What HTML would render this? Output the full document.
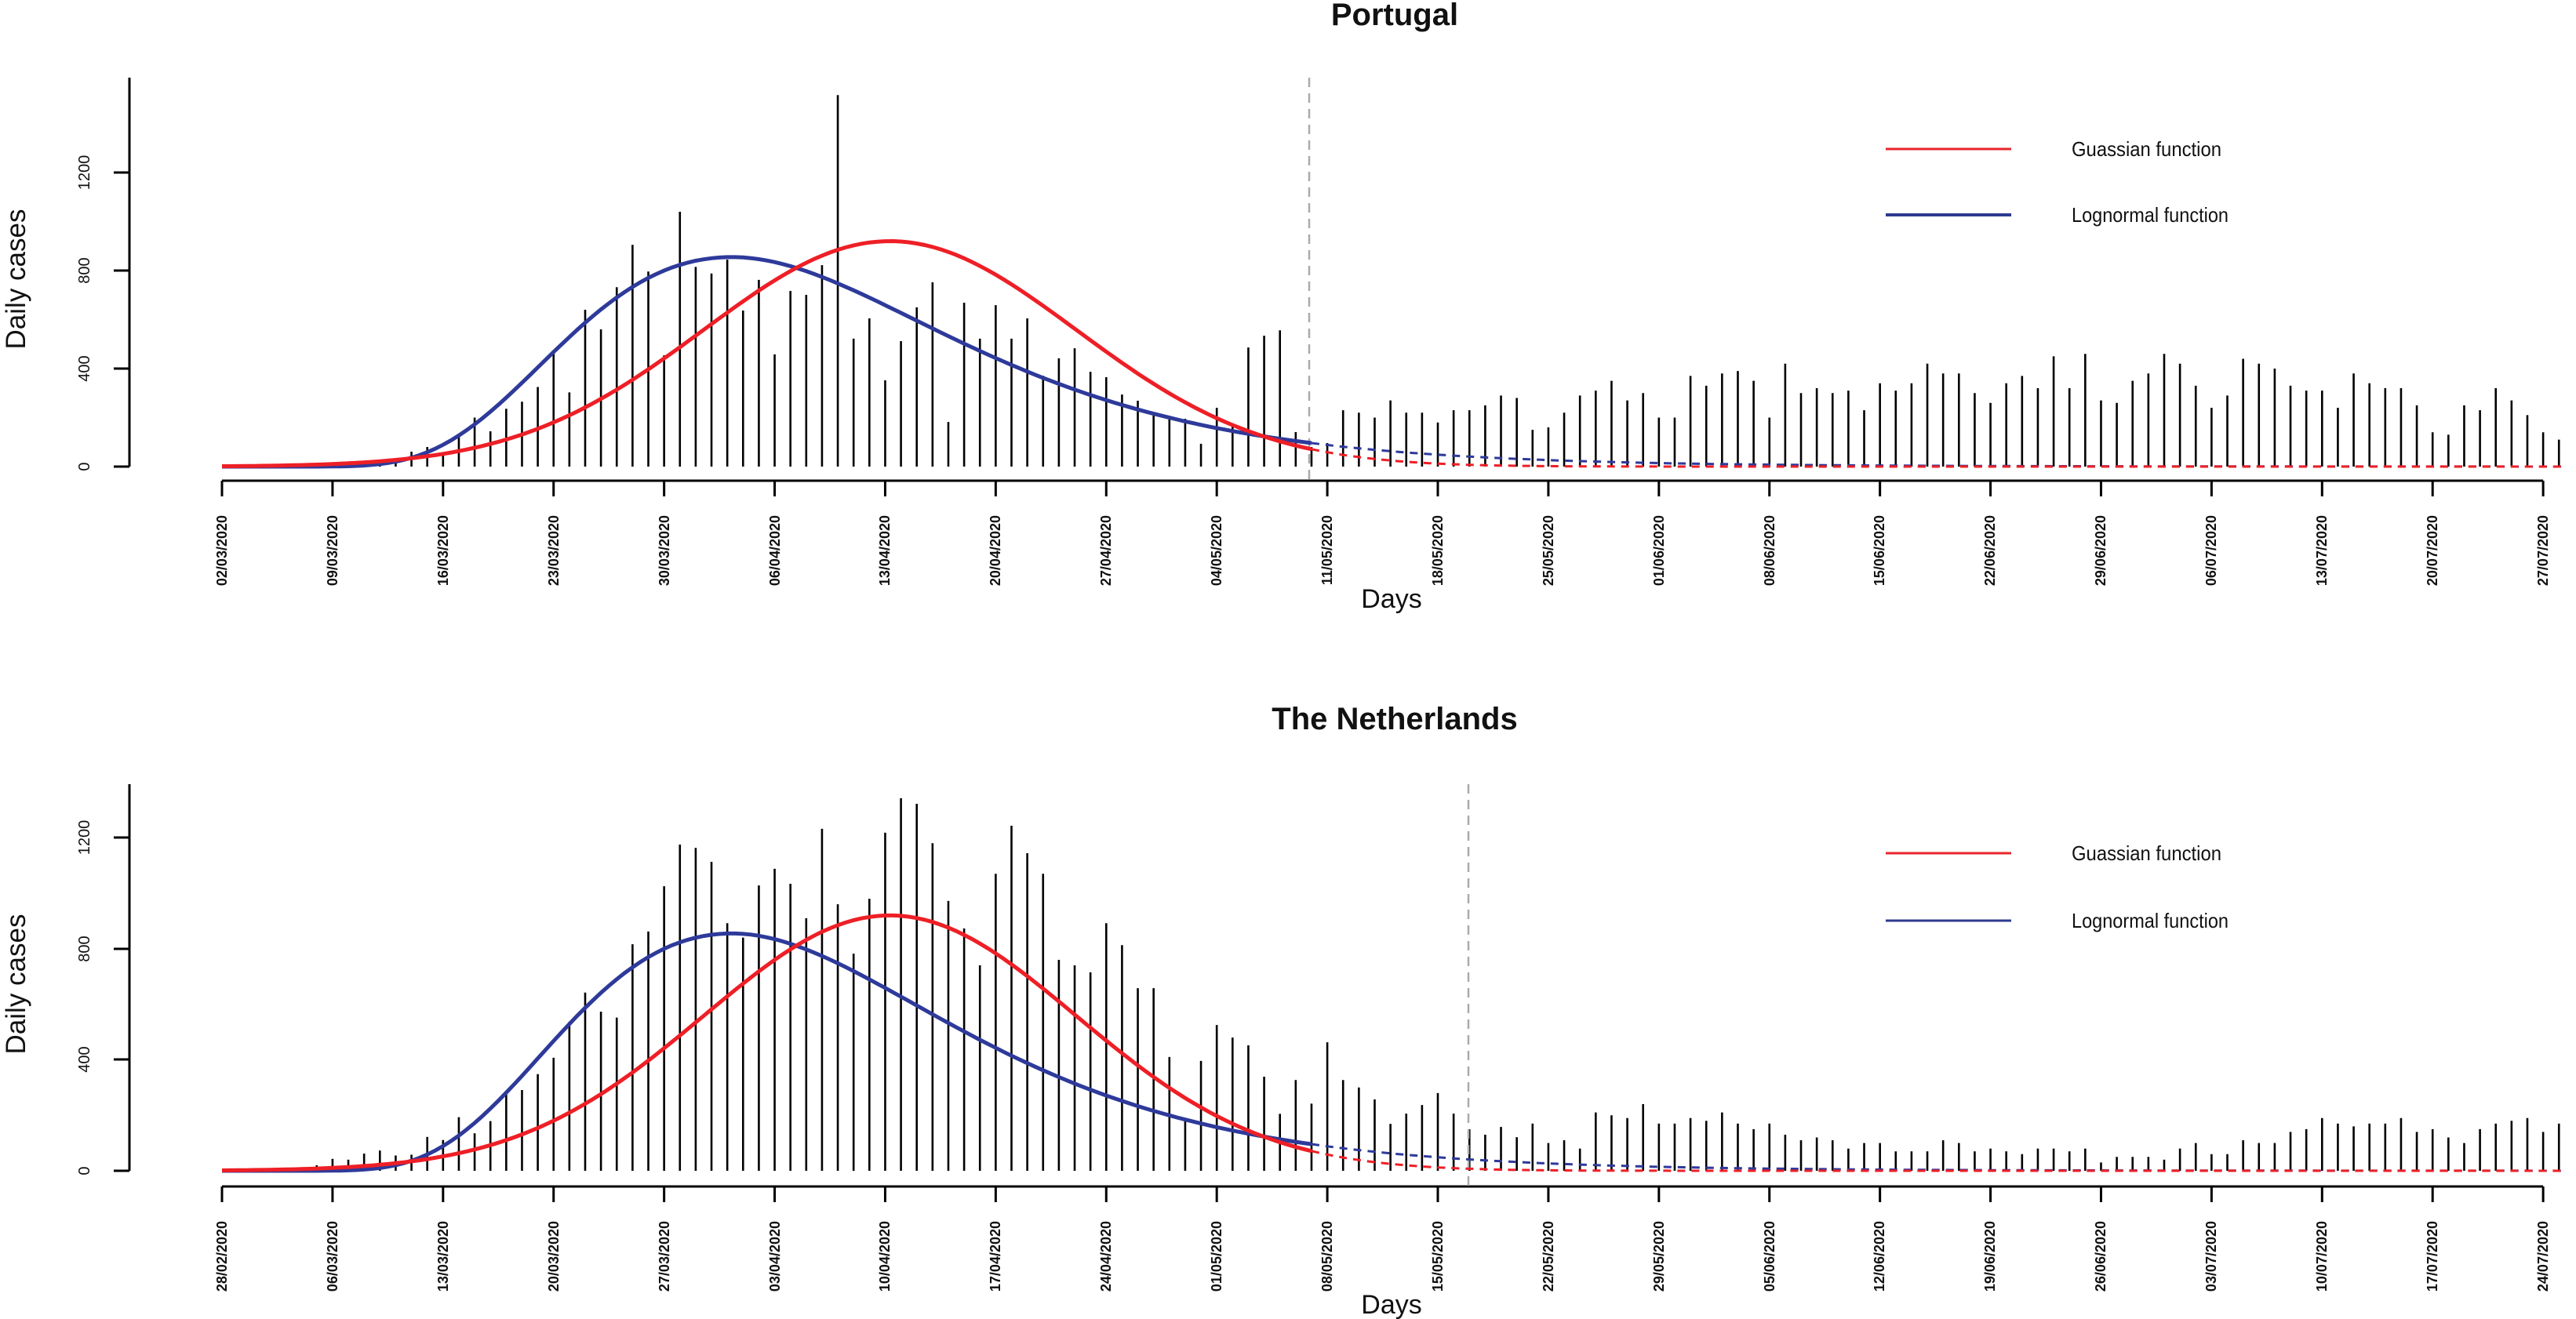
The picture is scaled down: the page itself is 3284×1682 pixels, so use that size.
<!DOCTYPE html>
<html><head><meta charset="utf-8"><style>
html,body{margin:0;padding:0;background:#fff}
svg{display:block}
text{font-family:"Liberation Sans",Arial,sans-serif;fill:#111}
</style></head><body>
<svg id="s" width="3284" height="1682" viewBox="0 0 3284 1682" xmlns="http://www.w3.org/2000/svg">
<rect width="3284" height="1682" fill="#fff"/>
<text x="1778" y="32" font-size="40" font-weight="bold" text-anchor="middle">Portugal</text>
<text x="1778" y="930" font-size="40" font-weight="bold" text-anchor="middle">The Netherlands</text>
<text transform="translate(32,356) rotate(-90)" font-size="35" text-anchor="middle">Daily cases</text>
<text transform="translate(32,1255) rotate(-90)" font-size="35" text-anchor="middle">Daily cases</text>
<text x="1774" y="775" font-size="34" text-anchor="middle">Days</text>
<text x="1774" y="1675" font-size="34" text-anchor="middle">Days</text>
<g stroke="#000" stroke-width="3" fill="none">
<line x1="165" y1="99" x2="165" y2="595"/>
<line x1="145" y1="595" x2="165" y2="595"/><line x1="145" y1="470" x2="165" y2="470"/><line x1="145" y1="345" x2="165" y2="345"/><line x1="145" y1="220" x2="165" y2="220"/>
<line x1="165" y1="1000" x2="165" y2="1493"/>
<line x1="145" y1="1493" x2="165" y2="1493"/><line x1="145" y1="1351" x2="165" y2="1351"/><line x1="145" y1="1210" x2="165" y2="1210"/><line x1="145" y1="1068" x2="165" y2="1068"/>
</g>
<g font-size="20" text-anchor="middle">
<text transform="translate(114,595) rotate(-90)">0</text>
<text transform="translate(114,470) rotate(-90)">400</text>
<text transform="translate(114,345) rotate(-90)">800</text>
<text transform="translate(114,220) rotate(-90)">1200</text>
<text transform="translate(114,1493) rotate(-90)">0</text>
<text transform="translate(114,1351) rotate(-90)">400</text>
<text transform="translate(114,1210) rotate(-90)">800</text>
<text transform="translate(114,1068) rotate(-90)">1200</text>
</g>
<line x1="2404" y1="190" x2="2564" y2="190" stroke="#e8262b" stroke-width="3"/>
<line x1="2404" y1="274" x2="2564" y2="274" stroke="#2e3a8f" stroke-width="4"/>
<text x="2641" y="199" font-size="26" textLength="191" lengthAdjust="spacingAndGlyphs">Guassian function</text>
<text x="2641" y="283" font-size="26" textLength="200" lengthAdjust="spacingAndGlyphs">Lognormal function</text>
<line x1="2404" y1="1088" x2="2564" y2="1088" stroke="#e8262b" stroke-width="3"/>
<line x1="2404" y1="1174" x2="2564" y2="1174" stroke="#2e3a8f" stroke-width="3"/>
<text x="2641" y="1097" font-size="26" textLength="191" lengthAdjust="spacingAndGlyphs">Guassian function</text>
<text x="2641" y="1183" font-size="26" textLength="200" lengthAdjust="spacingAndGlyphs">Lognormal function</text>
<g font-size="18" font-weight="bold" text-anchor="end">
<text transform="translate(289,657) rotate(-90)">02/03/2020</text>
<text transform="translate(430,657) rotate(-90)">09/03/2020</text>
<text transform="translate(571,657) rotate(-90)">16/03/2020</text>
<text transform="translate(712,657) rotate(-90)">23/03/2020</text>
<text transform="translate(853,657) rotate(-90)">30/03/2020</text>
<text transform="translate(994,657) rotate(-90)">06/04/2020</text>
<text transform="translate(1134,657) rotate(-90)">13/04/2020</text>
<text transform="translate(1275,657) rotate(-90)">20/04/2020</text>
<text transform="translate(1416,657) rotate(-90)">27/04/2020</text>
<text transform="translate(1557,657) rotate(-90)">04/05/2020</text>
<text transform="translate(1698,657) rotate(-90)">11/05/2020</text>
<text transform="translate(1839,657) rotate(-90)">18/05/2020</text>
<text transform="translate(1980,657) rotate(-90)">25/05/2020</text>
<text transform="translate(2121,657) rotate(-90)">01/06/2020</text>
<text transform="translate(2262,657) rotate(-90)">08/06/2020</text>
<text transform="translate(2402,657) rotate(-90)">15/06/2020</text>
<text transform="translate(2543,657) rotate(-90)">22/06/2020</text>
<text transform="translate(2684,657) rotate(-90)">29/06/2020</text>
<text transform="translate(2825,657) rotate(-90)">06/07/2020</text>
<text transform="translate(2966,657) rotate(-90)">13/07/2020</text>
<text transform="translate(3107,657) rotate(-90)">20/07/2020</text>
<text transform="translate(3248,657) rotate(-90)">27/07/2020</text>
</g>
<g font-size="18" font-weight="bold" text-anchor="end">
<text transform="translate(289,1557) rotate(-90)">28/02/2020</text>
<text transform="translate(430,1557) rotate(-90)">06/03/2020</text>
<text transform="translate(571,1557) rotate(-90)">13/03/2020</text>
<text transform="translate(712,1557) rotate(-90)">20/03/2020</text>
<text transform="translate(853,1557) rotate(-90)">27/03/2020</text>
<text transform="translate(994,1557) rotate(-90)">03/04/2020</text>
<text transform="translate(1134,1557) rotate(-90)">10/04/2020</text>
<text transform="translate(1275,1557) rotate(-90)">17/04/2020</text>
<text transform="translate(1416,1557) rotate(-90)">24/04/2020</text>
<text transform="translate(1557,1557) rotate(-90)">01/05/2020</text>
<text transform="translate(1698,1557) rotate(-90)">08/05/2020</text>
<text transform="translate(1839,1557) rotate(-90)">15/05/2020</text>
<text transform="translate(1980,1557) rotate(-90)">22/05/2020</text>
<text transform="translate(2121,1557) rotate(-90)">29/05/2020</text>
<text transform="translate(2262,1557) rotate(-90)">05/06/2020</text>
<text transform="translate(2402,1557) rotate(-90)">12/06/2020</text>
<text transform="translate(2543,1557) rotate(-90)">19/06/2020</text>
<text transform="translate(2684,1557) rotate(-90)">26/06/2020</text>
<text transform="translate(2825,1557) rotate(-90)">03/07/2020</text>
<text transform="translate(2966,1557) rotate(-90)">10/07/2020</text>
<text transform="translate(3107,1557) rotate(-90)">17/07/2020</text>
<text transform="translate(3248,1557) rotate(-90)">24/07/2020</text>
</g>
<g id="dyn"></g>
</svg>
<script>
(function(){
var NS="http://www.w3.org/2000/svg", g=document.getElementById("dyn");
function el(n,a){var e=document.createElementNS(NS,n);for(var k in a)e.setAttribute(k,a[k]);g.appendChild(e);return e;}
var X0=283, DX=20.13;
var pt=[0,0,0,2,0,3,5,5,10,15,20,30,61,80,50,120,200,144,236,265,325,465,303,640,560,732,905,796,454,
1040,815,788,845,637,762,458,717,701,822,1516,522,605,352,512,650,752,182,669,522,659,522,605,371,442,483,387,365,294,269,211,198,195,93,240,173,486,534,556,141,80,96,
230,220,200,270,220,220,180,230,230,250,290,280,150,160,220,290,310,350,270,300,200,200,370,330,380,390,350,200,420,300,320,300,310,230,340,310,340,420,380,380,300,260,340,370,320,450,320,460,270,260,350,380,460,420,330,240,290,440,420,400,330,310,310,240,380,340,320,320,250,140,130,250,230,320,270,210,140,110,200];
var nl=[0,2,0,5,10,10,20,43,40,62,73,55,58,122,111,193,135,179,277,291,348,407,537,642,573,552,816,862,1025,
1175,1163,1113,892,840,1028,1088,1034,910,1232,960,782,980,1218,1342,1322,1180,972,873,740,1070,1243,1144,1070,760,740,715,892,813,658,658,410,181,396,525,480,452,339,205,327,242,463,327,300,257,169,206,237,280,206,150,130,158,121,
170,100,110,80,210,200,190,240,170,170,190,180,210,170,150,170,130,110,120,110,80,100,100,70,70,70,110,100,70,80,70,60,80,80,70,80,30,50,50,50,40,80,100,60,60,110,100,100,140,150,190,170,160,170,170,190,140,150,
120,100,150,170,180,190,140,170,190,140,130];
function gau(d){return 920*Math.exp(-Math.pow(d-42.3,2)/(2*11.8*11.8));}
function lgn(d){var t=d+0.3;var l=Math.log(t/32.6);return 855*Math.exp(-l*l/(l<0?0.3:0.26));}
function panel(data,y0,sc,top,vline,axisY){
  el("line",{x1:X0,y1:axisY,x2:X0+147*DX,y2:axisY,stroke:"#000","stroke-width":3});
  for(var k=0;k<22;k++){var x=X0+k*7*DX;el("line",{x1:x,y1:axisY,x2:x,y2:axisY+20,stroke:"#000","stroke-width":3});}
  for(var d=0;d<data.length;d++){var x=X0+d*DX;if(x>3282)break;var v=data[d];if(v<=0)continue;
    el("line",{x1:x,y1:y0,x2:x,y2:y0-v*sc,stroke:"#000","stroke-width":2.6});}
  el("line",{x1:vline,y1:top,x2:vline,y2:axisY,stroke:"#aaa","stroke-width":2.5,"stroke-dasharray":"12,8"});
  function path(f,a,b){var s="";for(var d=a;d<=b;d+=0.5){var x=X0+d*DX;if(x>3282)break;s+=(s?"L":"M")+x.toFixed(1)+","+(y0-f(d)*sc).toFixed(1);}return s;}
  el("path",{d:path(lgn,0,69),stroke:"#2e3a9a","stroke-width":5,fill:"none"});
  el("path",{d:path(gau,0,69),stroke:"#ee1f26","stroke-width":5,fill:"none"});
  el("path",{d:path(lgn,69,150),stroke:"#2e3a9a","stroke-width":3,fill:"none","stroke-dasharray":"10,8"});
  el("path",{d:path(gau,69,150),stroke:"#ee1f26","stroke-width":3,fill:"none","stroke-dasharray":"10,8"});
}
panel(pt,595,0.3125,99,1669,613);
panel(nl,1493,0.354,1000,1872,1513);
})();
</script>
</body></html>
